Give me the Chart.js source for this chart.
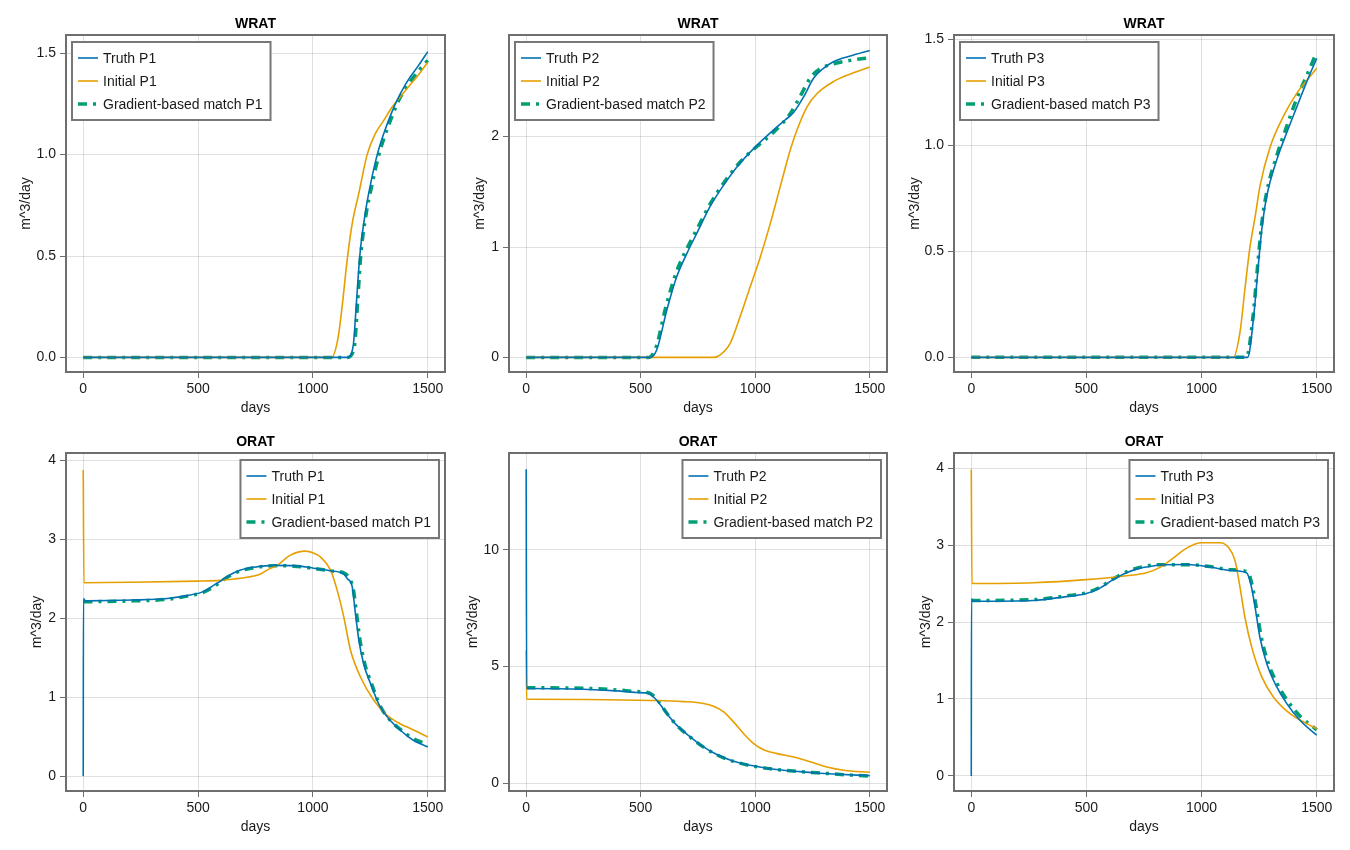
<!DOCTYPE html>
<html>
<head>
<meta charset="utf-8">
<title>WRAT / ORAT history match</title>
<script src="https://cdn.jsdelivr.net/npm/chart.js@4.4.1/dist/chart.umd.min.js"></script>
<style>
  html, body { margin: 0; padding: 0; background: #fff; }
  #wrap { position: relative; width: 1350px; height: 850px; overflow: hidden; }
  #wrap canvas { position: absolute; }
</style>
</head>
<body>
<div id="wrap"></div>
<script>
// ---- data ----
const dayTicks = [0, 500, 1000, 1500];

// WRAT P1
const wratP1TruthDays = [0, 30, 1100, 1150, 1175, 1190, 1204, 1229, 1250, 1280, 1309, 1340, 1367, 1400, 1425, 1460, 1500];
const wratP1Truth     = [0, 0, 0, 0, 0.054, 0.28, 0.5, 0.72, 0.85, 1.0, 1.106, 1.2, 1.27, 1.34, 1.385, 1.44, 1.508];
const wratP1InitDays  = [0, 1081, 1110, 1130, 1149, 1171, 1200, 1236, 1270, 1309, 1345, 1381, 1420, 1454, 1500];
const wratP1Init      = [0, 0, 0.10, 0.28, 0.48, 0.66, 0.81, 1.0, 1.10, 1.17, 1.235, 1.286, 1.34, 1.385, 1.456];
const wratP1MatchDays = [0, 1150, 1180, 1195, 1208, 1232, 1255, 1285, 1312, 1345, 1370, 1405, 1430, 1465, 1500];
const wratP1Match     = [0, 0, 0.05, 0.28, 0.5, 0.71, 0.84, 0.99, 1.09, 1.19, 1.26, 1.33, 1.37, 1.42, 1.465];

// WRAT P2
const wratP2TruthDays = [0, 541, 570, 614, 657, 701, 745, 803, 862, 934, 1007, 1080, 1130, 1168, 1211, 1255, 1299, 1343, 1415, 1500];
const wratP2Truth     = [0, 0, 0.07, 0.43, 0.73, 0.94, 1.125, 1.367, 1.56, 1.76, 1.92, 2.06, 2.15, 2.22, 2.36, 2.53, 2.62, 2.68, 2.73, 2.78];
const wratP2InitDays  = [0, 818, 847, 891, 934, 978, 1022, 1066, 1109, 1153, 1182, 1226, 1270, 1343, 1415, 1500];
const wratP2Init      = [0, 0, 0.024, 0.13, 0.37, 0.64, 0.91, 1.216, 1.547, 1.88, 2.06, 2.27, 2.39, 2.50, 2.567, 2.63];
const wratP2MatchDays = [0, 535, 565, 610, 655, 700, 745, 803, 862, 934, 1007, 1080, 1150, 1200, 1240, 1280, 1343, 1415, 1500];
const wratP2Match     = [0, 0, 0.08, 0.46, 0.77, 0.98, 1.16, 1.39, 1.58, 1.77, 1.91, 2.04, 2.2, 2.38, 2.53, 2.61, 2.66, 2.69, 2.715];

// WRAT P3
const wratP3TruthDays = [0, 1200, 1225, 1246, 1261, 1283, 1326, 1370, 1413, 1457, 1500];
const wratP3Truth     = [0, 0, 0.18, 0.43, 0.60, 0.76, 0.93, 1.06, 1.18, 1.30, 1.41];
const wratP3InitDays  = [0, 1138, 1167, 1188, 1210, 1232, 1254, 1297, 1355, 1413, 1460, 1500];
const wratP3Init      = [0, 0, 0.12, 0.32, 0.52, 0.66, 0.81, 0.99, 1.136, 1.245, 1.31, 1.363];
const wratP3MatchDays = [0, 1195, 1222, 1244, 1260, 1283, 1326, 1370, 1413, 1457, 1500];
const wratP3Match     = [0, 0, 0.18, 0.44, 0.62, 0.78, 0.95, 1.09, 1.22, 1.33, 1.44];

// ORAT P1
const oratP1TruthDays = [0, 1, 10, 220, 366, 453, 525, 569, 598, 627, 685, 743, 830, 917, 1004, 1077, 1134, 1150, 1171, 1185, 1200, 1221, 1251, 1294, 1338, 1381, 1410, 1439, 1470, 1500];
const oratP1Truth     = [0, 2.25, 2.22, 2.23, 2.25, 2.286, 2.34, 2.42, 2.47, 2.53, 2.61, 2.645, 2.67, 2.667, 2.633, 2.60, 2.56, 2.50, 2.40, 2.06, 1.72, 1.42, 1.17, 0.87, 0.70, 0.58, 0.51, 0.45, 0.405, 0.368];
const oratP1InitDays  = [0, 3, 200, 500, 598, 656, 743, 772, 800, 844, 902, 968, 1000, 1033, 1077, 1106, 1134, 1164, 1207, 1265, 1323, 1381, 1410, 1440, 1500];
const oratP1Init      = [3.88, 2.45, 2.455, 2.47, 2.48, 2.497, 2.535, 2.56, 2.61, 2.67, 2.80, 2.85, 2.83, 2.775, 2.61, 2.35, 2.02, 1.59, 1.255, 0.96, 0.77, 0.66, 0.62, 0.58, 0.495];
const oratP1MatchDays = [1, 10, 220, 366, 453, 525, 569, 598, 627, 685, 743, 830, 917, 1004, 1077, 1140, 1160, 1175, 1190, 1205, 1225, 1255, 1294, 1338, 1381, 1439, 1500];
const oratP1Match     = [2.21, 2.21, 2.22, 2.24, 2.28, 2.33, 2.40, 2.46, 2.52, 2.60, 2.64, 2.665, 2.66, 2.63, 2.60, 2.565, 2.50, 2.38, 2.06, 1.72, 1.43, 1.17, 0.88, 0.70, 0.59, 0.47, 0.405];

// ORAT P2
const oratP2TruthDays = [0, 2, 10, 249, 395, 482, 534, 550, 570, 614, 657, 716, 774, 832, 905, 978, 1051, 1124, 1197, 1270, 1343, 1420, 1500];
const oratP2Truth     = [13.45, 4.06, 4.06, 4.03, 3.96, 3.89, 3.85, 3.75, 3.56, 2.99, 2.49, 1.99, 1.56, 1.23, 0.944, 0.77, 0.644, 0.56, 0.50, 0.44, 0.40, 0.36, 0.33];
const oratP2InitDays  = [0, 2, 10, 249, 541, 687, 774, 818, 862, 905, 949, 993, 1036, 1095, 1168, 1240, 1313, 1386, 1500];
const oratP2Init      = [5.7, 3.6, 3.6, 3.59, 3.55, 3.5, 3.42, 3.30, 3.06, 2.63, 2.13, 1.70, 1.44, 1.27, 1.13, 0.92, 0.70, 0.56, 0.47];
const oratP2MatchDays = [1, 10, 249, 395, 482, 534, 552, 572, 614, 657, 716, 774, 832, 905, 978, 1051, 1124, 1197, 1270, 1343, 1420, 1500];
const oratP2Match     = [4.09, 4.09, 4.07, 4.0, 3.93, 3.88, 3.78, 3.58, 3.0, 2.49, 1.98, 1.55, 1.22, 0.94, 0.76, 0.64, 0.56, 0.50, 0.45, 0.40, 0.35, 0.31];

// ORAT P3
const oratP3TruthDays = [0, 1, 10, 268, 413, 500, 558, 616, 674, 732, 775, 819, 935, 1036, 1123, 1195, 1213, 1232, 1253, 1283, 1319, 1370, 1428, 1500];
const oratP3Truth     = [0, 2.30, 2.27, 2.28, 2.33, 2.37, 2.44, 2.55, 2.64, 2.70, 2.72, 2.74, 2.746, 2.715, 2.67, 2.64, 2.50, 2.20, 1.805, 1.46, 1.20, 0.94, 0.72, 0.53];
const oratP3InitDays  = [0, 3, 268, 500, 674, 761, 819, 877, 935, 1000, 1080, 1116, 1145, 1167, 1188, 1217, 1261, 1311, 1384, 1457, 1500];
const oratP3Init      = [3.98, 2.50, 2.51, 2.55, 2.60, 2.64, 2.71, 2.83, 2.96, 3.03, 3.03, 2.97, 2.80, 2.45, 2.065, 1.68, 1.29, 1.03, 0.81, 0.68, 0.615];
const oratP3MatchDays = [1, 10, 268, 413, 500, 558, 616, 674, 732, 819, 935, 1036, 1123, 1200, 1218, 1237, 1258, 1288, 1325, 1375, 1430, 1500];
const oratP3Match     = [2.28, 2.28, 2.29, 2.34, 2.38, 2.45, 2.56, 2.65, 2.71, 2.745, 2.745, 2.72, 2.68, 2.65, 2.50, 2.20, 1.82, 1.48, 1.22, 0.97, 0.77, 0.60];

// ---- look ----
const FONT = "'Liberation Sans', Arial, Helvetica, sans-serif";
const BLUE = "#0072B2", ORANGE = "#E69F00", GREEN = "#009E73";
const FRAME = "#6e6e6e";

Chart.defaults.font.family = FONT;
Chart.defaults.font.size = 14;
Chart.defaults.color = "#1a1a1a";

// plot-area rectangles [left, top, right, bottom] in page px
const panels = [
  { title: "WRAT", well: "P1", rect: [66, 35, 445, 372],  y: [-0.072, 1.59], yTicks: [0, 0.5, 1, 1.5], dec: 1, yLab: 40, legend: "left",
    s: [[wratP1TruthDays, wratP1Truth], [wratP1InitDays, wratP1Init], [wratP1MatchDays, wratP1Match]] },
  { title: "WRAT", well: "P2", rect: [509, 35, 887, 372], y: [-0.132, 2.92], yTicks: [0, 1, 2], dec: 0, yLab: 29, legend: "left",
    s: [[wratP2TruthDays, wratP2Truth], [wratP2InitDays, wratP2Init], [wratP2MatchDays, wratP2Match]] },
  { title: "WRAT", well: "P3", rect: [954, 35, 1334, 372], y: [-0.069, 1.52], yTicks: [0, 0.5, 1, 1.5], dec: 1, yLab: 39, legend: "left",
    s: [[wratP3TruthDays, wratP3Truth], [wratP3InitDays, wratP3Init], [wratP3MatchDays, wratP3Match]] },
  { title: "ORAT", well: "P1", rect: [66, 453, 445, 791], y: [-0.19, 4.094], yTicks: [0, 1, 2, 3, 4], dec: 0, yLab: 29, legend: "right",
    s: [[oratP1TruthDays, oratP1Truth], [oratP1InitDays, oratP1Init], [oratP1MatchDays, oratP1Match]] },
  { title: "ORAT", well: "P2", rect: [509, 453, 887, 791], y: [-0.33, 14.15], yTicks: [0, 5, 10], dec: 0, yLab: 36, legend: "right",
    s: [[oratP2TruthDays, oratP2Truth], [oratP2InitDays, oratP2Init], [oratP2MatchDays, oratP2Match]] },
  { title: "ORAT", well: "P3", rect: [954, 453, 1334, 791], y: [-0.195, 4.195], yTicks: [0, 1, 2, 3, 4], dec: 0, yLab: 28, legend: "right",
    s: [[oratP3TruthDays, oratP3Truth], [oratP3InitDays, oratP3Init], [oratP3MatchDays, oratP3Match]] },
];

const Y_AXIS_W = 66, X_AXIS_H = 52, PAD_TOP = 35, PAD_RIGHT = 6;

// frame, title and Makie-like legend inside the axes
const panelDecor = {
  id: "panelDecor",
  afterDraw(chart, args, opts) {
    const { ctx, chartArea: a } = chart;
    ctx.save();
    ctx.strokeStyle = FRAME;
    ctx.lineWidth = 2;
    ctx.strokeRect(a.left, a.top, a.right - a.left, a.bottom - a.top);

    ctx.fillStyle = "#000";
    ctx.font = "bold 14px " + FONT;
    ctx.textAlign = "center";
    ctx.textBaseline = "middle";
    ctx.fillText(opts.title, (a.left + a.right) / 2, a.top - 11);

    // legend
    ctx.font = "14px " + FONT;
    const sets = chart.data.datasets;
    let tw = 0;
    sets.forEach(d => { tw = Math.max(tw, ctx.measureText(d.label).width); });
    const w = 31 + tw + 8, h = 78;
    const x0 = opts.legend === "left" ? a.left + 6 : a.right - 6 - w;
    const y0 = a.top + 7;
    ctx.fillStyle = "#fff";
    ctx.fillRect(x0, y0, w, h);
    ctx.strokeStyle = "#777";
    ctx.lineWidth = 2;
    ctx.strokeRect(x0, y0, w, h);
    sets.forEach((d, k) => {
      const yy = y0 + 16 + k * 23;
      ctx.beginPath();
      ctx.strokeStyle = d.borderColor;
      ctx.lineWidth = d.borderWidth;
      ctx.lineCap = "butt";
      ctx.setLineDash(d.borderDash || []);
      ctx.moveTo(x0 + 6, yy);
      ctx.lineTo(x0 + 26, yy);
      ctx.stroke();
      ctx.setLineDash([]);
      ctx.fillStyle = "#1a1a1a";
      ctx.textAlign = "left";
      ctx.textBaseline = "middle";
      ctx.fillText(d.label, x0 + 31, yy + 1);
    });
    ctx.restore();
  }
};

function points(xs, ys) {
  return xs.map((d, i) => ({ x: d, y: ys[i] }));
}

const wrap = document.getElementById("wrap");

panels.forEach(p => {
  const [L, T, R, B] = p.rect;
  const cv = document.createElement("canvas");
  const cw = (R - L) + Y_AXIS_W + PAD_RIGHT;
  const ch = (B - T) + PAD_TOP + X_AXIS_H;
  cv.width = cw; cv.height = ch;
  cv.style.width = cw + "px"; cv.style.height = ch + "px";
  cv.style.left = (L - Y_AXIS_W) + "px";
  cv.style.top = (T - PAD_TOP) + "px";
  wrap.appendChild(cv);

  const styles = [
    { label: "Truth " + p.well, borderColor: BLUE, borderWidth: 1.6 },
    { label: "Initial " + p.well, borderColor: ORANGE, borderWidth: 1.6 },
    { label: "Gradient-based match " + p.well, borderColor: GREEN, borderWidth: 3.5, borderDash: [9, 6, 3, 6] },
  ];

  new Chart(cv, {
    type: "line",
    data: {
      datasets: p.s.map((s, k) => Object.assign({
        data: points(s[0], s[1]),
        pointRadius: 0,
        fill: false,
        cubicInterpolationMode: "monotone",
        borderCapStyle: "butt",
      }, styles[k]))
    },
    options: {
      responsive: false,
      animation: false,
      events: [],
      layout: { padding: { top: PAD_TOP, right: PAD_RIGHT, left: 0, bottom: 0 } },
      plugins: {
        legend: { display: false },
        tooltip: { enabled: false },
        panelDecor: { title: p.title, legend: p.legend },
      },
      scales: {
        x: {
          type: "linear",
          min: -75, max: 1575,
          afterBuildTicks: s => { s.ticks = dayTicks.map(v => ({ value: v })); },
          afterFit: s => { s.height = X_AXIS_H; },
          ticks: { padding: 3, maxRotation: 0, callback: v => String(v) },
          grid: { color: "rgba(0,0,0,0.12)", tickColor: FRAME, tickLength: 6, lineWidth: 1 },
          border: { display: false },
          title: { display: true, text: "days", padding: { top: 0, bottom: 7.6 } },
        },
        y: {
          type: "linear",
          min: p.y[0], max: p.y[1],
          afterBuildTicks: s => { s.ticks = p.yTicks.map(v => ({ value: v })); },
          afterFit: s => { s.width = Y_AXIS_W; },
          ticks: { padding: 4, callback: v => v.toFixed(p.dec) },
          grid: { color: "rgba(0,0,0,0.12)", tickColor: FRAME, tickLength: 6, lineWidth: 1 },
          border: { display: false },
          title: { display: true, text: "m^3/day", padding: { top: Y_AXIS_W - p.yLab - 8.4, bottom: 0 } },
        },
      },
    },
    plugins: [panelDecor],
  });
});
</script>
</body>
</html>
